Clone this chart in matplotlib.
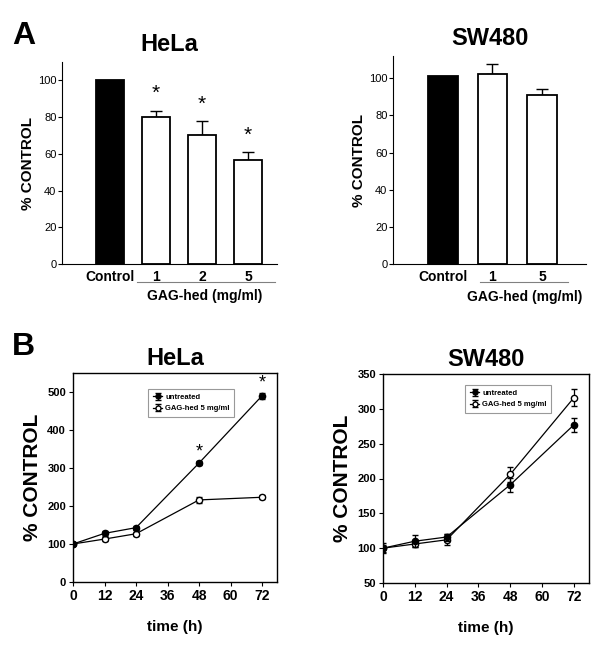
import numpy as np
import matplotlib
matplotlib.use('agg')
import matplotlib.pyplot as plt

plt.rcParams['font.family'] = ['Liberation Sans', 'DejaVu Sans']
narrow = ['Liberation Sans Narrow', 'Liberation Sans', 'DejaVu Sans']

# panel A data
hela_labels = ['Control', '1', '2', '5']
hela_vals = [100, 80, 70, 56.5]
hela_err = [0, 3.5, 8, 4.5]
hela_star = [False, True, True, True]

sw_labels = ['Control', '1', '5']
sw_vals = [101, 102.5, 91]
sw_err = [0, 5, 3.5]

# panel B data
time_h = [0, 12, 24, 48, 72]
hela_untr = [100, 128, 143, 313, 490]
hela_untr_err = [3, 6, 5, 5, 8]
hela_gag = [100, 113, 127, 216, 223]
hela_gag_err = [3, 5, 5, 8, 5]
hela_time_star = [48, 72]

sw_untr = [100, 110, 116, 191, 277]
sw_untr_err = [5, 9, 5, 10, 10]
sw_gag = [100, 106, 112, 206, 316]
sw_gag_err = [7, 5, 8, 11, 12]

W, H = 600, 646
fig = plt.figure(figsize=(6, 6.46), dpi=100)


def ax_px(l, t, r, b):
    return fig.add_axes([l / W, 1 - b / H, (r - l) / W, (b - t) / H])


def bar_panel(ax, labels, vals, errs, xlim, ylim, line_x, text_x, stars=None):
    x = np.arange(len(vals))
    colors = ['black'] + ['white'] * (len(vals) - 1)
    ax.bar(x, vals, width=0.6, color=colors, edgecolor='black', linewidth=1.3, zorder=2)
    for i in range(1, len(vals)):
        ax.errorbar(x[i], vals[i], yerr=[[0], [errs[i]]], fmt='none', ecolor='black',
                    elinewidth=1, capsize=4, capthick=1, zorder=1)
        if stars is not None and stars[i]:
            ax.text(x[i], vals[i] + errs[i] + 4, '*', ha='center', va='bottom', fontsize=15)
    ax.set_xlim(*xlim)
    ax.set_ylim(*ylim)
    ax.spines['top'].set_visible(False)
    ax.spines['right'].set_visible(False)
    ax.set_yticks(range(0, 101, 20))
    ax.tick_params(axis='y', direction='out', length=3, labelsize=8, pad=1)
    for t in ax.get_yticklabels():
        t.set_family(narrow)
    ax.set_xticks(x)
    ax.set_xticklabels(labels, fontweight='bold', fontsize=10)
    ax.tick_params(axis='x', length=0, pad=4)
    ax.set_ylabel('% CONTROL', fontweight='bold', fontsize=11, labelpad=2)
    ax.plot(line_x, [-0.088, -0.088], color='gray', lw=0.8, clip_on=False,
            transform=ax.get_xaxis_transform())
    ax.text(text_x, -0.16, 'GAG-hed (mg/ml)', ha='center', va='center', fontweight='bold',
            fontsize=10, transform=ax.get_xaxis_transform())


ax1 = ax_px(62, 62, 277, 264)
bar_panel(ax1, hela_labels, hela_vals, hela_err, (-1.04, 3.63), (0, 110),
          [0.59, 3.59], 2.07, hela_star)
ax1.set_title('HeLa', fontsize=17, fontweight='bold', pad=8)

ax2 = ax_px(393, 56, 586, 264)
bar_panel(ax2, sw_labels, sw_vals, sw_err, (-1.01, 2.89), (0, 112),
          [0.75, 2.53], 1.66)
ax2.set_title('SW480', fontsize=17, fontweight='bold', pad=8)


def line_panel(ax, untr, untr_err, gag, gag_err, ylim, yticks, leg_at, stars=()):
    ax.errorbar(time_h, untr, yerr=untr_err, color='black', marker='o', ms=4.5,
                mfc='black', mec='black', lw=0.9, elinewidth=0.9, capsize=2.5,
                label='untreated', zorder=3)
    ax.errorbar(time_h, gag, yerr=gag_err, color='black', marker='o', ms=4.5,
                mfc='white', mec='black', lw=0.9, elinewidth=0.9, capsize=2.5,
                label='GAG-hed 5 mg/ml', zorder=2)
    for s in stars:
        i = time_h.index(s)
        ax.text(s, untr[i] + untr_err[i] + 3, '*', ha='center', va='bottom', fontsize=13)
    ax.set_xlim(0, 77.7)
    ax.set_ylim(*ylim)
    ax.set_xticks(range(0, 73, 12))
    ax.set_yticks(yticks)
    ax.tick_params(axis='y', direction='out', length=3, labelsize=8, pad=2)
    ax.tick_params(axis='x', direction='out', length=3, labelsize=10, pad=2)
    for t in ax.get_xticklabels() + ax.get_yticklabels():
        t.set_fontweight('bold')
    for t in ax.get_yticklabels():
        t.set_family(narrow)
    for sp in ax.spines.values():
        sp.set_linewidth(1.0)
    ax.set_xlabel('time (h)', fontweight='bold', fontsize=11, family=narrow, labelpad=12)
    ax.set_ylabel('% CONTROL', fontweight='bold', fontsize=15, labelpad=4)
    leg = ax.legend(loc='upper left', bbox_to_anchor=leg_at, fontsize=5.5,
                    frameon=True, fancybox=False, edgecolor='gray', handlelength=1.2,
                    handletextpad=0.4, borderpad=0.6, labelspacing=0.5, markerscale=0.8,
                    borderaxespad=0)
    leg.get_frame().set_linewidth(0.8)
    for t in leg.get_texts():
        t.set_fontweight('bold')
        t.set_family(narrow)


ax3 = ax_px(73, 373, 277, 582)
line_panel(ax3, hela_untr, hela_untr_err, hela_gag, hela_gag_err, (0, 550),
           range(0, 501, 100), (0.37, 0.923), hela_time_star)
ax3.set_title('HeLa', fontsize=17, fontweight='bold', pad=6)

ax4 = ax_px(383, 374, 589, 583)
line_panel(ax4, sw_untr, sw_untr_err, sw_gag, sw_gag_err, (50, 350),
           range(50, 351, 50), (0.40, 0.947))
ax4.set_title('SW480', fontsize=17, fontweight='bold', pad=6)

fig.text(12 / W, 1 - 44 / H, 'A', fontsize=23, fontweight='bold')
fig.text(12 / W, 1 - 355 / H, 'B', fontsize=23, fontweight='bold')

fig.savefig('out.png', dpi=100)
